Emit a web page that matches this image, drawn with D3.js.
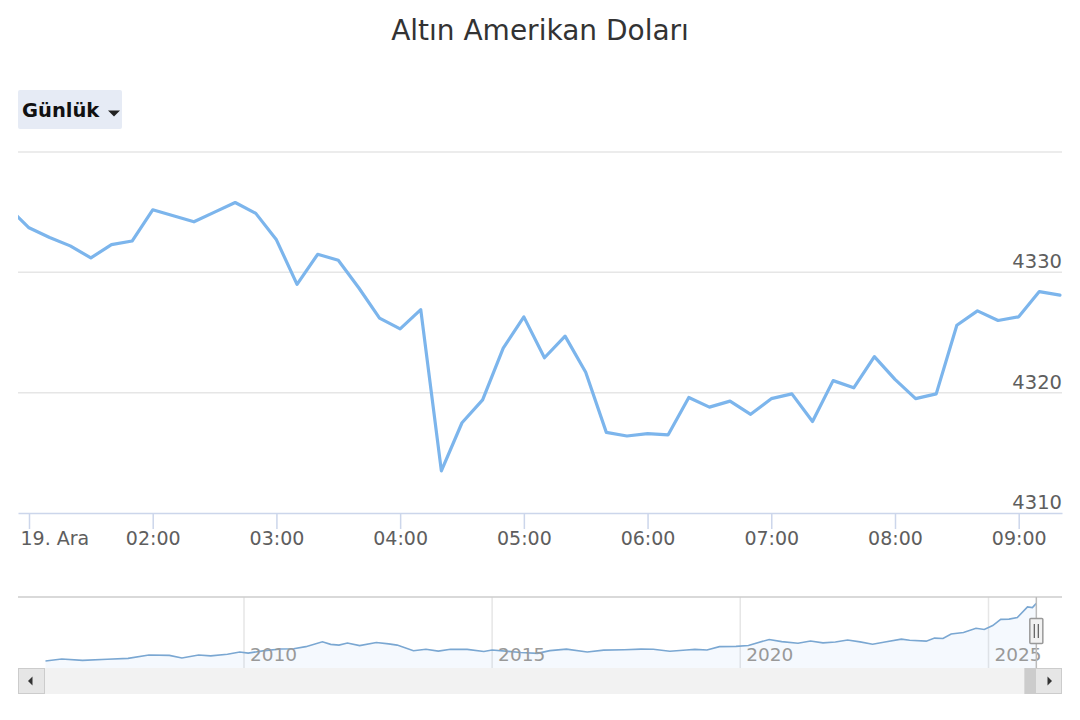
<!DOCTYPE html>
<html><head><meta charset="utf-8">
<script src="https://cdn.jsdelivr.net/npm/d3@7"></script>
<style>
body{margin:0;background:#fff;}
svg{display:block;font-family:"DejaVu Sans",sans-serif;}
</style>
</head><body>
<svg id="c" width="1080" height="720"></svg>
<script>
// ---------- DATA ----------
const chartTitle = "Altın Amerikan Doları";
const rangeButtonLabel = "Günlük";
const day = "2025-12-19";
const times = ["00:50","01:00","01:10","01:20","01:30","01:40","01:50","02:00","02:10","02:20","02:30","02:40","02:50",
  "03:00","03:10","03:20","03:30","03:40","03:50","04:00","04:10","04:20","04:30","04:40","04:50",
  "05:00","05:10","05:20","05:30","05:40","05:50","06:00","06:10","06:20","06:30","06:40","06:50",
  "07:00","07:10","07:20","07:30","07:40","07:50","08:00","08:10","08:20","08:30","08:40","08:50",
  "09:00","09:10","09:20"];
const prices = [4335.4,4333.7,4332.9,4332.2,4331.2,4332.3,4332.6,4335.2,4334.7,4334.2,4335.0,4335.8,4334.9,
  4332.7,4329.0,4331.5,4331.0,4328.7,4326.2,4325.3,4326.9,4313.5,4317.5,4319.4,4323.7,
  4326.3,4322.9,4324.7,4321.7,4316.7,4316.4,4316.6,4316.5,4319.6,4318.8,4319.3,4318.2,
  4319.5,4319.9,4317.6,4321.0,4320.4,4323.0,4321.1,4319.5,4319.9,4325.6,4326.8,4326.0,
  4326.3,4328.4,4328.1];
const xViewStart = "00:54:40";
const xViewEnd = "09:21:00";
const xTickTimes = ["01:00","02:00","03:00","04:00","05:00","06:00","07:00","08:00","09:00"];
const xTickLabels = ["19. Ara","02:00","03:00","04:00","05:00","06:00","07:00","08:00","09:00"];
const yDomain = [4310, 4340];
const yTicks = [4310, 4320, 4330, 4340];
const yTickLabels = ["4310", "4320", "4330", ""];

const navDates = ["2006-01-01","2006-05-01","2006-10-01","2007-04-01","2007-09-01","2008-02-01","2008-07-01","2008-10-01","2009-02-01","2009-05-01",
  "2009-09-01","2009-12-01","2010-02-01","2010-06-01","2010-10-01","2011-01-01","2011-04-01","2011-08-01","2011-10-01","2011-12-01",
  "2012-02-01","2012-05-01","2012-09-01","2012-12-01","2013-02-01","2013-06-01","2013-09-01","2013-12-01","2014-03-01","2014-07-01",
  "2014-11-01","2015-01-01","2015-05-01","2015-08-01","2015-12-01","2016-03-01","2016-07-01","2016-12-01","2017-04-01","2017-09-01",
  "2018-01-01","2018-04-01","2018-08-01","2018-12-01","2019-02-01","2019-05-01","2019-08-01","2019-12-01","2020-03-01","2020-08-01",
  "2020-11-01","2021-03-01","2021-06-01","2021-09-01","2021-12-01","2022-03-01","2022-06-01","2022-09-01","2022-12-01","2023-04-01",
  "2023-06-01","2023-10-01","2023-12-01","2024-02-01","2024-04-01","2024-07-01","2024-10-01","2024-12-01","2025-02-01","2025-04-01",
  "2025-06-01","2025-08-01","2025-10-15","2025-11-20","2025-12-19"];
const navPrices = [560,690,600,680,735,950,930,760,950,900,
  1000,1150,1080,1240,1350,1360,1500,1820,1650,1600,
  1740,1570,1770,1680,1600,1230,1330,1210,1330,1320,
  1180,1280,1190,1120,1060,1240,1340,1150,1270,1300,
  1340,1330,1200,1280,1320,1280,1500,1520,1580,1970,
  1830,1720,1870,1750,1800,1930,1810,1660,1800,1990,
  1920,1860,2060,2030,2330,2420,2700,2620,2880,3280,
  3300,3400,4100,4050,4330];
const navYears = ["2010","2015","2020","2025"];
const navYDomain = [0, 4640];

// ---------- LAYOUT ----------
const svg = d3.select("#c");
const L = 18, R = 1062, T = 152, B = 513;
const navT = 597, navB = 668, sbT = 668, sbB = 694;

const pT = d3.timeParse("%Y-%m-%d %H:%M");
const pTs = d3.timeParse("%Y-%m-%d %H:%M:%S");
const pD = d3.timeParse("%Y-%m-%d");
const pY = d3.timeParse("%Y");

// title
svg.append("text").attr("x", 540).attr("y", 40).attr("text-anchor", "middle")
  .attr("font-size", 28).attr("fill", "#333").text(chartTitle);

// range button
svg.append("rect").attr("x", 18).attr("y", 90).attr("width", 104).attr("height", 39)
  .attr("rx", 2).attr("fill", "#e6ebf5");
svg.append("text").attr("x", 22).attr("y", 117).attr("font-size", 19.5).attr("font-weight", "bold")
  .attr("fill", "#111").text(rangeButtonLabel);
svg.append("path").attr("d", "M108,110.5 L120,110.5 L114,116.5 Z").attr("fill", "#222");

// scales
const x = d3.scaleTime().domain([pTs(day + " " + xViewStart), pTs(day + " " + xViewEnd)]).range([L, R]);
const y = d3.scaleLinear().domain(yDomain).range([B, T]);

// gridlines
svg.append("g").selectAll("line").data(yTicks.filter(d => d !== yDomain[0])).join("line")
  .attr("x1", L).attr("x2", R).attr("y1", d => y(d)).attr("y2", d => y(d))
  .attr("stroke", "#e6e6e6").attr("stroke-width", 1.5);

// y labels
svg.append("g").selectAll("text").data(yTicks).join("text")
  .attr("x", R).attr("y", d => y(d) - 4).attr("text-anchor", "end")
  .attr("font-size", 19.5).attr("fill", "#5e5e5e")
  .text((d, i) => yTickLabels[i]);

// x axis
const xAxis = d3.axisBottom(x)
  .tickValues(xTickTimes.map(t => pT(day + " " + t)))
  .tickSize(16).tickSizeOuter(0)
  .tickFormat((d, i) => xTickLabels[i]);
const gx = svg.append("g").attr("transform", `translate(0,${B})`).call(xAxis);
gx.select(".domain").attr("stroke", "#ccd6eb").attr("stroke-width", 1.5);
gx.selectAll(".tick line").attr("stroke", "#ccd6eb").attr("stroke-width", 1.5);
gx.selectAll(".tick text").attr("font-size", 19).attr("fill", "#5e5e5e")
  .attr("font-family", "DejaVu Sans").attr("y", 19);
gx.selectAll(".tick text").filter((d, i) => i === 0)
  .attr("text-anchor", "start").attr("x", 20 - x(pT(day + " " + xTickTimes[0])));

// main line
svg.append("clipPath").attr("id", "clipMain").append("rect")
  .attr("x", L).attr("y", T - 20).attr("width", R - L).attr("height", B - T + 20);
const mainData = times.map((t, i) => ({ t: pT(day + " " + t), v: prices[i] }));
svg.append("path").datum(mainData).attr("clip-path", "url(#clipMain)")
  .attr("fill", "none").attr("stroke", "#7cb5ec").attr("stroke-width", 3.2)
  .attr("stroke-linejoin", "round").attr("stroke-linecap", "round")
  .attr("d", d3.line().x(d => x(d.t)).y(d => y(d.v)));

// ---------- NAVIGATOR ----------
const nx = d3.scaleTime().domain([pY("2010"), pY("2025")]).range([244, 988.5]);
const ny = d3.scaleLinear().domain(navYDomain).range([669.6, 598.6]);
const navData = navDates.map((d, i) => ({ t: pD(d), v: navPrices[i] }));

// year gridlines
svg.append("g").selectAll("line").data(navYears).join("line")
  .attr("x1", d => nx(pY(d))).attr("x2", d => nx(pY(d)))
  .attr("y1", navT).attr("y2", navB).attr("stroke", "#e6e6e6").attr("stroke-width", 1.5);

// area + line
svg.append("path").datum(navData).attr("fill", "rgba(124,181,236,0.08)")
  .attr("d", d3.area().x(d => nx(d.t)).y0(navB).y1(d => ny(d.v)));
svg.append("path").datum(navData).attr("fill", "none").attr("stroke", "#7aa7d2")
  .attr("stroke-width", 1.6).attr("d", d3.line().x(d => nx(d.t)).y(d => ny(d.v)));

// year labels
svg.append("g").selectAll("text").data(navYears).join("text")
  .attr("x", d => nx(pY(d)) + 6).attr("y", 660.5)
  .attr("font-size", 18.5).attr("fill", "#999").text(d => d);

// outline
svg.append("line").attr("x1", L).attr("x2", R).attr("y1", navT).attr("y2", navT)
  .attr("stroke", "#cccccc").attr("stroke-width", 1.5);
const selX = nx(pD(navDates[navDates.length - 1]));
svg.append("line").attr("x1", selX).attr("x2", selX).attr("y1", navT).attr("y2", navB)
  .attr("stroke", "#bbbbbb").attr("stroke-width", 1.5);

// scrollbar
svg.append("rect").attr("x", L).attr("y", sbT).attr("width", R - L).attr("height", sbB - sbT).attr("fill", "#f2f2f2");
svg.append("rect").attr("x", L + 0.5).attr("y", sbT + 0.5).attr("width", 26).attr("height", sbB - sbT - 1)
  .attr("fill", "#e6e6e6").attr("stroke", "#cccccc");
svg.append("path").attr("d", "M28,681 L32.5,676.5 L32.5,685.5 Z").attr("fill", "#333");
svg.append("rect").attr("x", selX - 12).attr("y", sbT).attr("width", 12).attr("height", sbB - sbT).attr("fill", "#cccccc");
svg.append("rect").attr("x", R - 26.5).attr("y", sbT + 0.5).attr("width", 26).attr("height", sbB - sbT - 1)
  .attr("fill", "#e6e6e6").attr("stroke", "#cccccc");
svg.append("path").attr("d", "M1052,681 L1047.5,676.5 L1047.5,685.5 Z").attr("fill", "#333");

// handle
svg.append("rect").attr("x", selX - 6.5).attr("y", 618.5).attr("width", 13).attr("height", 25)
  .attr("rx", 1).attr("fill", "#f2f2f2").attr("stroke", "#999").attr("stroke-width", 1.5);
svg.append("line").attr("x1", selX - 2).attr("x2", selX - 2).attr("y1", 624).attr("y2", 638).attr("stroke", "#666").attr("stroke-width", 1.3);
svg.append("line").attr("x1", selX + 2).attr("x2", selX + 2).attr("y1", 624).attr("y2", 638).attr("stroke", "#666").attr("stroke-width", 1.3);
</script>
</body></html>
